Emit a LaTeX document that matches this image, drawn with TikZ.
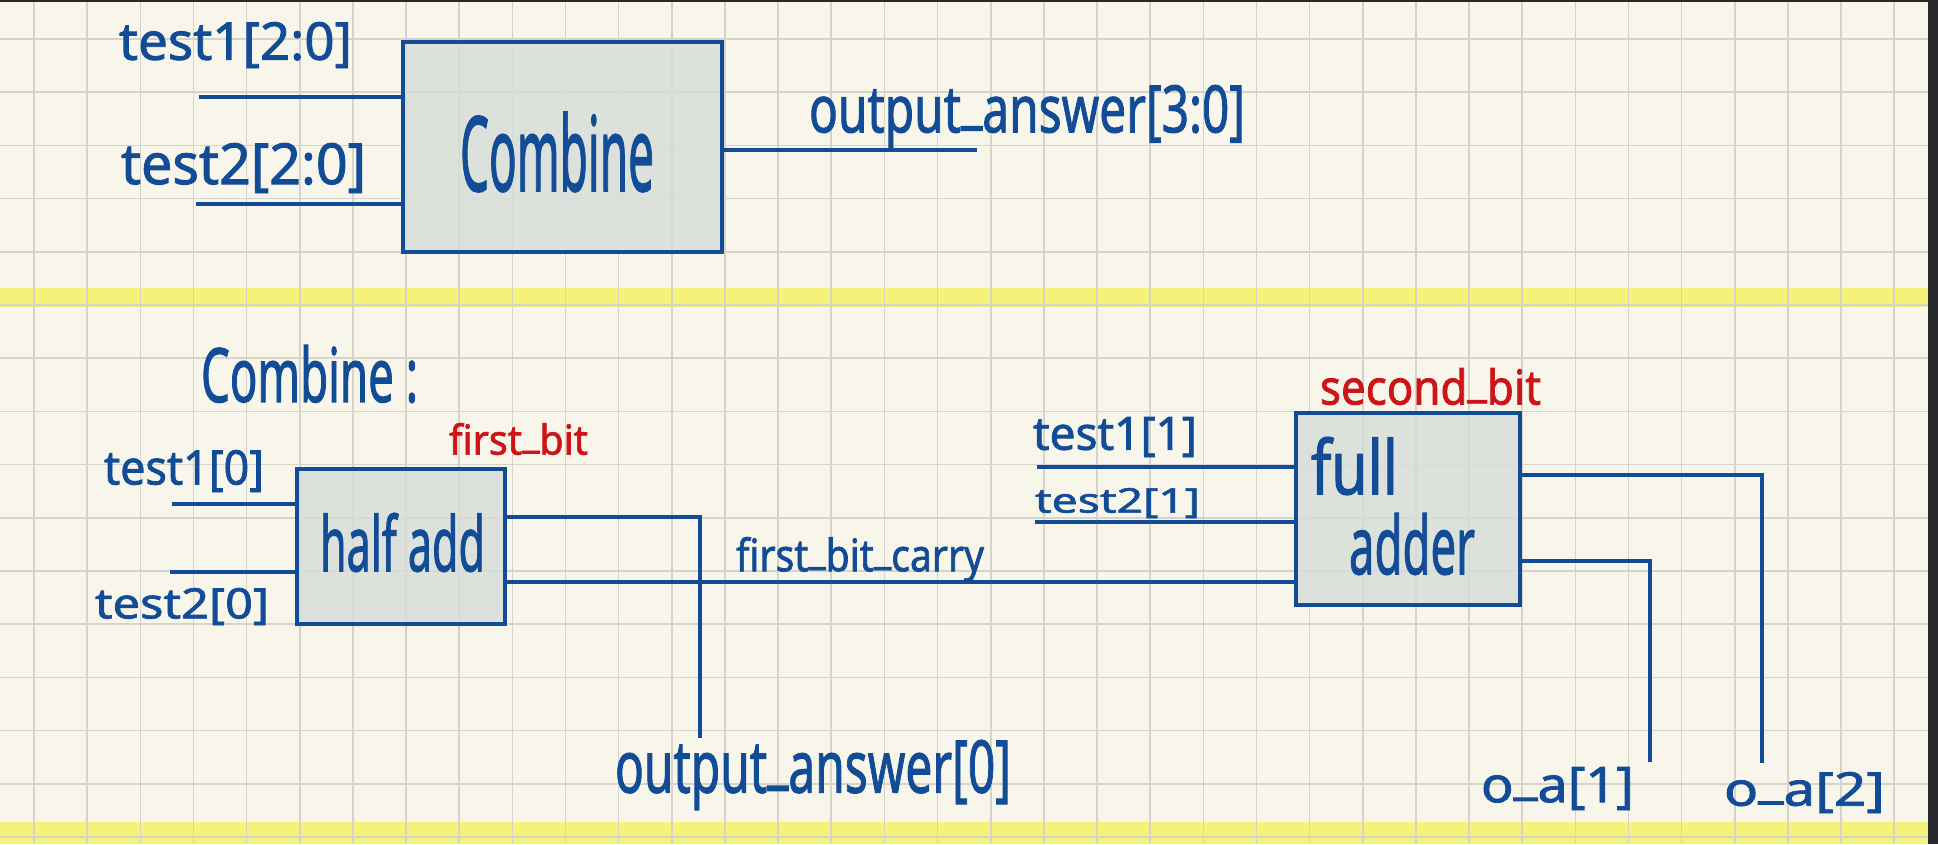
\documentclass[tikz,border=0pt]{standalone}
\usepackage{graphicx}
\usepackage{fontspec}
\setmainfont{Noto Sans}
\newfontfamily\handfont{Noto Sans}[FakeBold=1.6]
\definecolor{paper}{HTML}{F8F6EA}
\definecolor{gridc}{HTML}{D6D4CA}
\definecolor{hilite}{HTML}{F5F27A}
\definecolor{ink}{HTML}{124C96}
\definecolor{redink}{HTML}{CC1419}
\definecolor{boxfill}{HTML}{D6DED8}
\definecolor{frame}{HTML}{27282C}
\newcommand{\hw}[3]{\resizebox*{#1pt}{#2pt}{#3}}
\newcommand{\usc}{\raisebox{0.18em}{\_}}
\tikzset{
  gridline/.style={draw=gridc, line width=1.6pt},
  blockbox/.style={draw=ink, line width=4.5pt, fill=boxfill, fill opacity=0.8, rectangle, inner sep=0pt},
  wire/.style={draw=ink, line width=4pt},
  lbl/.style={inner sep=0pt, outer sep=0pt, text=ink, font=\handfont},
  rlbl/.style={inner sep=0pt, outer sep=0pt, text=redink, font=\handfont}
}
\begin{document}
\begin{tikzpicture}[x=1pt, y=-1pt]
\useasboundingbox (0,0) rectangle (1938,844);
% paper
\fill[paper] (0,0) rectangle (1938,844);
\fill[hilite] (0,288) rectangle (1928,307);
\fill[hilite] (0,822) rectangle (1928,844);
\foreach \i in {0,...,35} \draw[gridline] ({34+53.15*\i},0) -- ({34+53.15*\i},844);
\foreach \j in {0,...,15} \draw[gridline] (0,{39+53.2*\j}) -- (1928,{39+53.2*\j});
\fill[frame] (1928,0) rectangle (1938,844);
\fill[frame] (0,0) rectangle (1938,2);

% ---------- top block ----------
\node[blockbox, minimum width=319pt, minimum height=210pt] (comb) at (562.5,147) {};
\node[lbl] (combtxt) at (557,152) {\hw{194}{80}{Combine}};
\coordinate (in1) at (199,97);
\coordinate (in2) at (196,204);
\coordinate (out) at (977,150);
\draw[wire] (in1) -- (in1 -| comb.west);
\draw[wire] (in2) -- (in2 -| comb.west);
\draw[wire] (out -| comb.east) -- (out);
\node[lbl] (t1top) at (235.5,45) {\hw{233}{46}{test1[2:0]}};
\node[lbl] (t2top) at (243.5,168) {\hw{245}{50}{test2[2:0]}};
\node[lbl] (oa30) at (1027,116.5) {\hw{436}{63}{output\usc answer[3:0]}};

% ---------- bottom: Combine ----------
\node[lbl] (combine2) at (309.5,374) {\hw{217}{58}{Combine :}};

% half adder
\node[blockbox, minimum width=208pt, minimum height=155pt] (ha) at (401,546.5) {};
\node[lbl] (hatxt) at (402.5,542.5) {\hw{165}{59}{half add}};
\node[rlbl] (firstbit) at (518.5,439) {\hw{139}{32}{first\usc bit}};
\coordinate (hin1) at (172,504);
\coordinate (hin2) at (170,572);
\draw[wire] (hin1) -- (hin1 -| ha.west);
\draw[wire] (hin2) -- (hin2 -| ha.west);
\node[lbl] (t10) at (184,471) {\hw{160}{42}{test1[0]}};
\node[lbl] (t20) at (182,606.5) {\hw{174}{37}{test2[0]}};

% full adder
\node[blockbox, minimum width=224pt, minimum height=192pt] (fa) at (1408,509) {};
\node[lbl] (fulltxt) at (1354.5,466) {\hw{87}{58}{full}};
\node[lbl] (addertxt) at (1412,544) {\hw{126}{62}{adder}};
\node[rlbl] (secondbit) at (1430.5,386.5) {\hw{221}{37}{second\usc bit}};
\coordinate (fin1) at (1037,467);
\coordinate (fin2) at (1035,522);
\draw[wire] (fin1) -- (fin1 -| fa.west);
\draw[wire] (fin2) -- (fin2 -| fa.west);
\node[lbl] (t11) at (1115,437) {\hw{164}{40}{test1[1]}};
\node[lbl] (t21) at (1117.5,503) {\hw{165}{30}{test2[1]}};

% half adder outputs
\coordinate (s0corner) at (700,517);
\coordinate (s0end) at (700,738);
\draw[wire] (s0corner -| ha.east) -- (s0corner) -- (s0end);
\coordinate (carryy) at (0,582);
\draw[wire] (carryy -| ha.east) -- (carryy -| fa.west);
\node[lbl] (carry) at (860,559.5) {\hw{248}{45}{first\usc bit\usc carry}};
\node[lbl] (oa0) at (813,775) {\hw{396}{70}{output\usc answer[0]}};

% full adder outputs
\coordinate (s2corner) at (1762,475);
\coordinate (s2end) at (1762,763);
\coordinate (s1corner) at (1650,561);
\coordinate (s1end) at (1650,762);
\draw[wire] (s2corner -| fa.east) -- (s2corner) -- (s2end);
\draw[wire] (s1corner -| fa.east) -- (s1corner) -- (s1end);
\node[lbl] (oa1) at (1557.5,788.5) {\hw{153}{43}{o\usc a[1]}};
\node[lbl] (oa2) at (1804.5,792.5) {\hw{161}{41}{o\usc a[2]}};
\end{tikzpicture}
\end{document}
